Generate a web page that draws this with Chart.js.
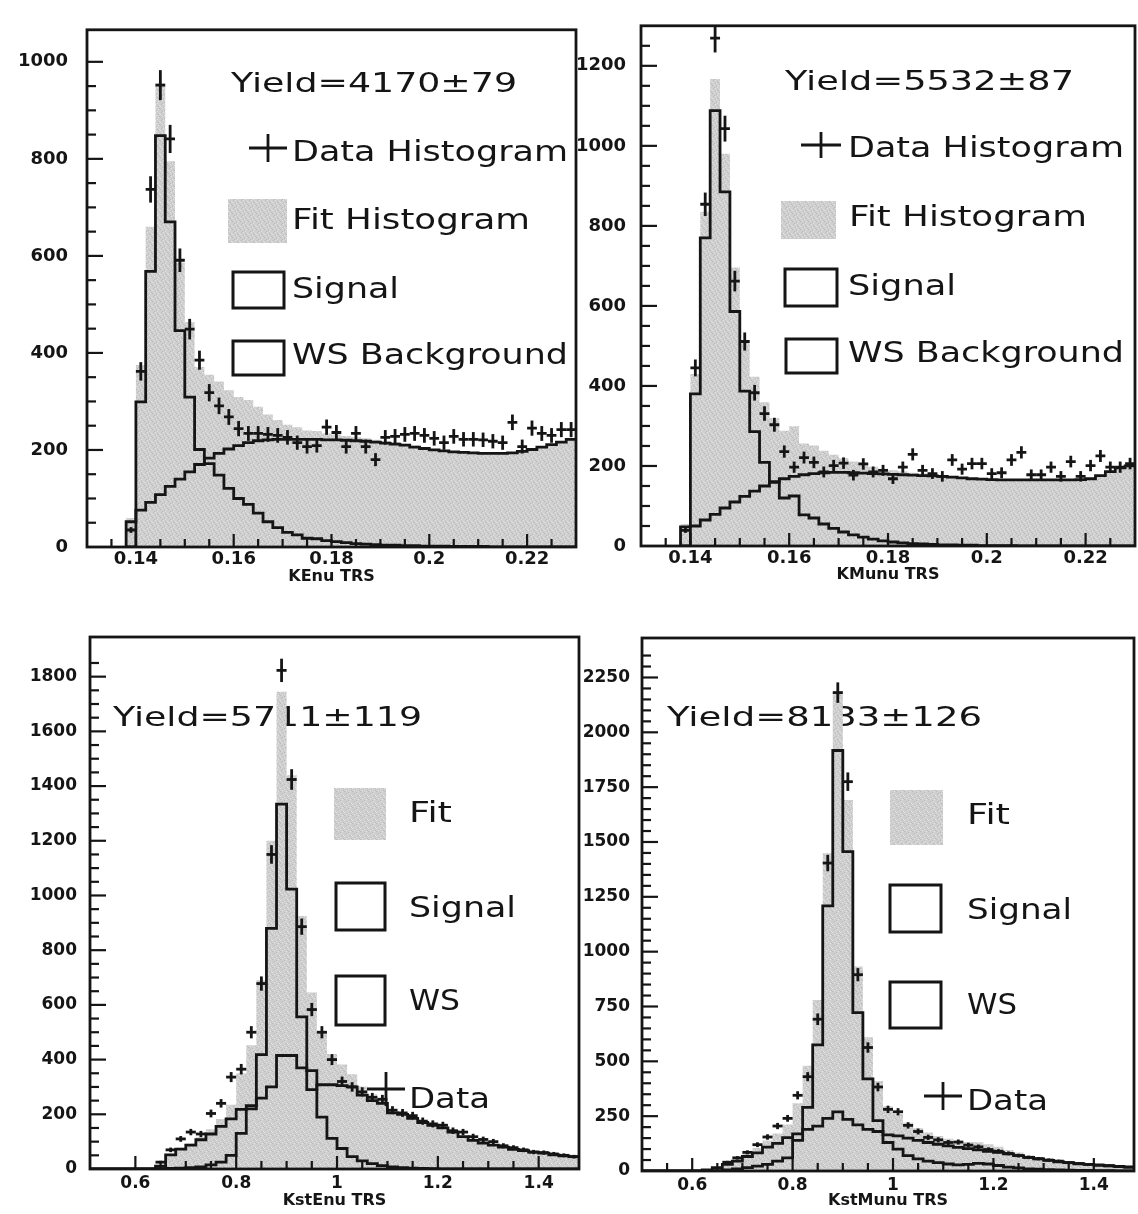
<!DOCTYPE html>
<html>
<head>
<meta charset="utf-8">
<script src="https://cdn.jsdelivr.net/npm/chart.js@4.4.1/dist/chart.umd.min.js"></script>
<style>
  html, body { margin: 0; padding: 0; background: #ffffff; }
  #page { position: relative; width: 1138px; height: 1214px; overflow: hidden; background: #ffffff; }
  #page canvas { position: absolute; }
</style>
</head>
<body>
<div id="page">
  <canvas id="cKEnu"></canvas>
  <canvas id="cKMunu"></canvas>
  <canvas id="cKstEnu"></canvas>
  <canvas id="cKstMunu"></canvas>
</div>
<script>
const INK = '#151515';
const FONT = '"DejaVu Sans", "Liberation Sans", sans-serif';

// ---------------- KEnu TRS (bins of 0.002 starting at 0.138) ----------------
const kenuBinStart = 0.138, kenuBinWidth = 0.002;
const kenuFit    = [60,375,660,956,795,586,464,371,355,341,323,309,303,289,273,262,252,247,240,239,234,232,229,226,224,221,218,216,213,209,205,202,200,197,196,195,194,193,193,194,197,201,206,211,216,222];
const kenuSignal = [0,299,568,848,670,446,309,201,172,148,121,100,88,70,52,40,30,25,18,17,13,11,9,7,6,5,4,4,3,3,2,2,2,1,1,1,1,0,0,0,0,0,0,0,0,0];
const kenuWS     = [52,76,92,108,125,140,155,170,183,193,202,209,215,219,221,222,222,222,222,222,221,221,220,219,218,216,214,212,210,206,203,200,198,196,195,194,193,193,193,194,197,201,206,211,216,222];
const kenuData   = [35,362,737,952,841,591,449,385,318,291,268,244,234,234,232,230,226,215,207,209,247,236,207,234,207,180,226,228,232,234,230,224,215,228,222,222,221,218,215,257,207,245,234,230,242,242];

// ---------------- KMunu TRS (bins of 0.002 starting at 0.138) ----------------
const kmunuBinStart = 0.138, kmunuBinWidth = 0.002;
const kmunuFit    = [55,430,835,1167,980,696,511,423,359,320,288,299,256,251,238,228,219,211,204,198,193,189,186,183,181,179,177,175,172,170,168,167,166,166,165,165,165,165,165,165,166,168,176,186,195,200];
const kmunuSignal = [0,380,770,1088,885,586,387,286,209,160,120,125,78,70,55,44,35,28,22,17,13,10,8,6,5,4,3,3,2,2,1,1,1,1,0,0,0,0,0,0,0,0,0,0,0,0];
const kmunuWS     = [48,50,65,79,95,110,124,137,150,160,168,174,178,181,183,184,184,183,182,181,180,179,178,177,176,175,174,172,170,168,167,166,165,165,165,165,165,165,165,165,166,168,176,186,195,200];
const kmunuData   = [39,445,854,1269,1043,662,511,383,331,303,236,197,221,209,185,201,207,177,205,185,189,168,197,229,189,181,174,215,192,206,206,181,183,215,234,178,178,197,174,211,174,201,225,197,197,206];

// ---------------- KstEnu TRS (bins of 0.02 starting at 0.50) ----------------
const kstenuBinStart = 0.50, kstenuBinWidth = 0.02;
const kstenuFit    = [0,0,0,0,0,0,0,12,56,78,93,117,145,183,235,350,452,690,1200,1745,1440,925,645,500,420,382,346,302,272,254,215,207,190,173,162,151,136,119,105,95,87,80,72,67,62,58,52,48,45];
const kstenuSignal = [0,0,0,0,0,0,0,0,2,3,5,8,15,25,50,130,220,418,880,1334,1023,556,360,190,112,75,45,30,20,12,8,5,3,2,1,0,0,0,0,0,0,0,0,0,0,0,0,0,0];
const kstenuWS     = [0,0,0,0,0,0,0,10,52,73,87,107,128,156,183,218,232,259,300,415,415,370,290,308,308,305,300,270,250,240,205,200,185,170,160,150,135,118,105,95,87,80,72,67,62,58,52,48,45];
const kstenuData   = [null,null,null,null,null,null,null,25,70,110,135,128,203,240,336,365,500,678,1150,1823,1424,886,583,500,400,320,300,282,262,255,215,205,195,175,165,160,140,135,118,108,100,85,78,70,62,60,55,50,45];

// ---------------- KstMunu TRS (bins of 0.02 starting at 0.50) ----------------
const kstmunuBinStart = 0.50, kstmunuBinWidth = 0.02;
const kstmunuFit    = [0,0,0,0,0,0,5,17,35,55,81,105,139,171,212,309,480,780,1449,2187,1691,932,610,410,295,260,220,195,175,160,147,136,132,131,122,110,96,84,72,63,54,47,42,36,33,29,26,22,19];
const kstmunuSignal = [0,0,0,0,0,0,0,2,5,10,15,22,30,45,60,140,290,575,1209,1917,1456,722,420,230,130,100,70,55,45,38,32,28,30,35,32,25,18,14,10,8,6,5,4,3,3,2,2,1,1];
const kstmunuWS     = [0,0,0,0,0,0,5,15,30,45,66,83,109,126,152,169,190,205,240,270,235,210,190,180,165,160,150,140,130,122,115,108,102,96,90,85,78,70,62,55,48,42,38,33,30,27,24,21,18];
const kstmunuData   = [null,null,null,null,null,null,null,null,40,60,85,120,155,205,240,345,430,692,1404,2181,1775,895,563,383,281,270,208,180,153,142,130,132,118,110,98,90,80,70,62,56,50,45,38,34,30,27,24,20,18];

// ---------------- panel layout ----------------
const panels = [
  {
    id: 'cKEnu', left: 0, top: 0, width: 580, height: 600,
    area: { left: 87, top: 16, right: 576, bottom: 547 },
    tickSize: 18,
    x: { min: 0.13, max: 0.23, step: 0.005, major: 0.02, digits: 3, pad: 2, title: 'KEnu TRS', titlePad: 14 },
    y: { max: 1066, step: 50, major: 200, pad: 19 },
    bins: { start: kenuBinStart, width: kenuBinWidth },
    fit: kenuFit, signal: kenuSignal, ws: kenuWS, data: kenuData,
    yieldNote: { text: 'Yield=4170\u00b179', x: 231, base: 92, size: 26, w: 286 },
    notes: [
      { kind: 'cross', cx: 268, cy: 148, hw: 19, hh: 14 },
      { kind: 'text', text: 'Data Histogram', x: 292, base: 161, size: 28, w: 276 },
      { kind: 'swatch', x1: 228, y1: 199, x2: 287, y2: 243 },
      { kind: 'text', text: 'Fit Histogram', x: 292, base: 229, size: 28, w: 238 },
      { kind: 'box', x1: 233, y1: 272, x2: 284, y2: 308 },
      { kind: 'text', text: 'Signal', x: 292, base: 298, size: 28, w: 107 },
      { kind: 'box', x1: 233, y1: 341, x2: 284, y2: 375 },
      { kind: 'text', text: 'WS Background', x: 292, base: 364, size: 28, w: 276 }
    ]
  },
  {
    id: 'cKMunu', left: 560, top: 0, width: 578, height: 600,
    area: { left: 641, top: 11, right: 1135, bottom: 546 },
    tickSize: 18,
    x: { min: 0.13, max: 0.23, step: 0.005, major: 0.02, digits: 3, pad: 2, title: 'KMunu TRS', titlePad: 16 },
    y: { max: 1300, step: 50, major: 200, pad: 15 },
    bins: { start: kmunuBinStart, width: kmunuBinWidth },
    fit: kmunuFit, signal: kmunuSignal, ws: kmunuWS, data: kmunuData,
    yieldNote: { text: 'Yield=5532\u00b187', x: 785, base: 90, size: 26, w: 289 },
    notes: [
      { kind: 'cross', cx: 821, cy: 145, hw: 20, hh: 13 },
      { kind: 'text', text: 'Data Histogram', x: 848, base: 157, size: 28, w: 276 },
      { kind: 'swatch', x1: 781, y1: 201, x2: 836, y2: 239 },
      { kind: 'text', text: 'Fit Histogram', x: 849, base: 226, size: 28, w: 238 },
      { kind: 'box', x1: 785, y1: 269, x2: 837, y2: 306 },
      { kind: 'text', text: 'Signal', x: 848, base: 295, size: 28, w: 108 },
      { kind: 'box', x1: 786, y1: 339, x2: 837, y2: 373 },
      { kind: 'text', text: 'WS Background', x: 848, base: 362, size: 28, w: 276 }
    ]
  },
  {
    id: 'cKstEnu', left: 0, top: 610, width: 590, height: 604,
    area: { left: 90, top: 637, right: 579, bottom: 1169 },
    tickSize: 17,
    x: { min: 0.51, max: 1.48, step: 0.05, major: 0.2, digits: 2, pad: 4, title: 'KstEnu TRS', titlePad: 4 },
    y: { max: 1945, step: 50, major: 200, pad: 13 },
    bins: { start: kstenuBinStart, width: kstenuBinWidth },
    fit: kstenuFit, signal: kstenuSignal, ws: kstenuWS, data: kstenuData,
    yieldNote: { text: 'Yield=5711\u00b1119', x: 113, base: 726, size: 26, w: 309 },
    notes: [
      { kind: 'swatch', x1: 334, y1: 788, x2: 386, y2: 840 },
      { kind: 'text', text: 'Fit', x: 409, base: 822, size: 28, w: 43 },
      { kind: 'box', x1: 336, y1: 883, x2: 385, y2: 930 },
      { kind: 'text', text: 'Signal', x: 409, base: 917, size: 28, w: 107 },
      { kind: 'box', x1: 336, y1: 976, x2: 385, y2: 1025 },
      { kind: 'text', text: 'WS', x: 409, base: 1010, size: 28, w: 51 },
      { kind: 'cross', cx: 386, cy: 1089, hw: 19, hh: 17 },
      { kind: 'text', text: 'Data', x: 409, base: 1108, size: 28, w: 81 }
    ]
  },
  {
    id: 'cKstMunu', left: 560, top: 610, width: 578, height: 604,
    area: { left: 642, top: 638, right: 1135, bottom: 1171 },
    tickSize: 17,
    x: { min: 0.5, max: 1.48, step: 0.05, major: 0.2, digits: 2, pad: 4, title: 'KstMunu TRS', titlePad: 4 },
    y: { max: 2430, step: 50, major: 250, pad: 12 },
    bins: { start: kstmunuBinStart, width: kstmunuBinWidth },
    fit: kstmunuFit, signal: kstmunuSignal, ws: kstmunuWS, data: kstmunuData,
    yieldNote: { text: 'Yield=8133\u00b1126', x: 667, base: 726, size: 26, w: 315 },
    notes: [
      { kind: 'swatch', x1: 890, y1: 790, x2: 943, y2: 845 },
      { kind: 'text', text: 'Fit', x: 967, base: 824, size: 28, w: 43 },
      { kind: 'box', x1: 890, y1: 885, x2: 941, y2: 932 },
      { kind: 'text', text: 'Signal', x: 967, base: 919, size: 28, w: 105 },
      { kind: 'box', x1: 890, y1: 982, x2: 941, y2: 1028 },
      { kind: 'text', text: 'WS', x: 967, base: 1014, size: 28, w: 50 },
      { kind: 'cross', cx: 943, cy: 1096, hw: 19, hh: 14 },
      { kind: 'text', text: 'Data', x: 967, base: 1110, size: 28, w: 81 }
    ]
  }
];

// light grey grain used for the fitted histogram
function grainPattern(ctx) {
  const c = document.createElement('canvas');
  c.width = 8; c.height = 8;
  const g = c.getContext('2d');
  g.fillStyle = '#cfcfcf'; g.fillRect(0, 0, 8, 8);
  g.fillStyle = '#bbbbbb';
  [[1,0],[5,1],[3,3],[7,4],[0,5],[4,6],[2,7],[6,2]].forEach(([x, y]) => g.fillRect(x, y, 1, 1));
  g.fillStyle = '#e3e3e3';
  [[3,0],[0,2],[6,5],[2,4],[5,7],[7,1],[4,3]].forEach(([x, y]) => g.fillRect(x, y, 1, 1));
  return ctx.createPattern(c, 'repeat');
}

function fitText(ctx, text, x, base, size, width) {
  ctx.save();
  ctx.font = size + 'px ' + FONT;
  ctx.fillStyle = INK;
  ctx.textAlign = 'left';
  ctx.textBaseline = 'alphabetic';
  const w0 = ctx.measureText(text).width;
  ctx.translate(x, base);
  ctx.scale(width / w0, 1);
  ctx.fillText(text, 0, 0);
  ctx.restore();
}

function isMultiple(v, m) {
  return Math.abs(Math.round(v / m) * m - v) < 1e-7;
}

function makeChart(p) {
  const cv = document.getElementById(p.id);
  cv.width = p.width; cv.height = p.height;
  cv.style.left = p.left + 'px';
  cv.style.top = p.top + 'px';
  const ctx = cv.getContext('2d');
  const ox = p.left, oy = p.top;

  const n = p.fit.length;
  const edges = [];
  for (let i = 0; i <= n; i++) edges.push(+(p.bins.start + i * p.bins.width).toFixed(4));
  const centers = edges.slice(0, n).map((e, i) => +((e + edges[i + 1]) / 2).toFixed(4));

  const stepPts = vals => [{ x: edges[0], y: 0 }]
    .concat(vals.map((v, i) => ({ x: edges[i], y: v })))
    .concat([{ x: edges[n], y: vals[n - 1] }]);
  const dataPts = p.data.map((v, i) => (v == null ? null : { x: centers[i], y: v })).filter(Boolean);

  const binHalfPx = c => {
    const s = c.chart.scales.x;
    if (!s) return 4.5;
    return Math.abs(s.getPixelForValue(p.bins.width) - s.getPixelForValue(0)) / 2;
  };

  const tickFont = { family: FONT, size: p.tickSize, weight: 'bold' };

  const notesPlugin = {
    id: 'notes_' + p.id,
    beforeDatasetsDraw(chart) {
      const yn = p.yieldNote;
      fitText(chart.ctx, yn.text, yn.x - ox, yn.base - oy, yn.size, yn.w);
    },
    afterDraw(chart) {
      const c = chart.ctx;
      const a = chart.chartArea;
      const xs = chart.scales.x, ys = chart.scales.y;
      c.save();
      c.strokeStyle = INK;
      c.lineCap = 'butt';
      // inward tick marks
      c.lineWidth = 2.2;
      xs.ticks.forEach(t => {
        const px = xs.getPixelForValue(t.value);
        if (px <= a.left + 2 || px >= a.right - 2) return;
        const len = isMultiple(t.value, p.x.major) ? 13 : 8;
        c.beginPath(); c.moveTo(px, a.bottom); c.lineTo(px, a.bottom - len); c.stroke();
      });
      ys.ticks.forEach(t => {
        const py = ys.getPixelForValue(t.value);
        if (py <= a.top + 2 || py >= a.bottom - 2) return;
        const len = isMultiple(t.value, p.y.major) ? 16 : 9;
        c.beginPath(); c.moveTo(a.left, py); c.lineTo(a.left + len, py); c.stroke();
      });
      // frame
      c.lineWidth = 2.8;
      c.strokeRect(a.left, a.top, a.right - a.left, a.bottom - a.top);
      // key
      p.notes.forEach(k => {
        if (k.kind === 'text') {
          fitText(c, k.text, k.x - ox, k.base - oy, k.size, k.w);
        } else if (k.kind === 'box') {
          c.lineWidth = 3;
          c.strokeRect(k.x1 - ox, k.y1 - oy, k.x2 - k.x1, k.y2 - k.y1);
        } else if (k.kind === 'swatch') {
          c.fillStyle = grainPattern(c);
          c.fillRect(k.x1 - ox, k.y1 - oy, k.x2 - k.x1, k.y2 - k.y1);
        } else if (k.kind === 'cross') {
          c.lineWidth = 2.8;
          c.beginPath();
          c.moveTo(k.cx - k.hw - ox, k.cy - oy); c.lineTo(k.cx + k.hw - ox, k.cy - oy);
          c.moveTo(k.cx - ox, k.cy - k.hh - oy); c.lineTo(k.cx - ox, k.cy + k.hh - oy);
          c.stroke();
        }
      });
      c.restore();
    },
    afterDatasetsDraw(chart) {
      // vertical statistical error bars on the data points
      const c = chart.ctx;
      const ys = chart.scales.y;
      chart.data.datasets.forEach((ds, di) => {
        if (!ds.errorBars) return;
        const meta = chart.getDatasetMeta(di);
        c.save();
        c.strokeStyle = INK;
        c.lineWidth = 2.8;
        meta.data.forEach((el, i) => {
          const v = ds.data[i].y;
          const e = Math.sqrt(v);
          const top = Math.max(ys.getPixelForValue(v + e), chart.chartArea.top);
          const bot = ys.getPixelForValue(Math.max(v - e, 0));
          c.beginPath(); c.moveTo(el.x, top); c.lineTo(el.x, bot); c.stroke();
        });
        c.restore();
      });
    }
  };

  return new Chart(ctx, {
    type: 'scatter',
    data: {
      datasets: [
        {
          label: 'Data', data: dataPts, errorBars: true, order: 0,
          showLine: false, pointStyle: 'line', pointRadius: binHalfPx, pointHoverRadius: binHalfPx,
          pointBorderWidth: 2.8, pointBorderColor: INK, pointBackgroundColor: INK
        },
        {
          label: 'Signal', data: stepPts(p.signal), order: 1,
          showLine: true, stepped: true, fill: false, pointRadius: 0,
          borderColor: INK, borderWidth: 2.8
        },
        {
          label: 'WS', data: stepPts(p.ws), order: 2,
          showLine: true, stepped: true, fill: false, pointRadius: 0,
          borderColor: INK, borderWidth: 2.8
        },
        {
          label: 'Fit', data: stepPts(p.fit), order: 3,
          showLine: true, stepped: true, fill: 'origin', pointRadius: 0,
          borderWidth: 0, borderColor: 'rgba(0,0,0,0)', backgroundColor: grainPattern(ctx)
        }
      ]
    },
    options: {
      responsive: false,
      devicePixelRatio: 1,
      animation: false,
      events: [],
      layout: { padding: { left: 0, top: p.area.top - oy, right: p.width - (p.area.right - ox), bottom: 0 } },
      plugins: { legend: { display: false }, tooltip: { enabled: false } },
      scales: {
        x: {
          type: 'linear', min: p.x.min, max: p.x.max,
          border: { display: false },
          grid: { display: false, drawTicks: false, tickLength: 0 },
          ticks: {
            stepSize: p.x.step, autoSkip: false, maxRotation: 0, padding: p.x.pad,
            color: INK, font: tickFont,
            callback: v => (isMultiple(v, p.x.major) && v > p.x.min + 1e-9 && v < p.x.max - 1e-9) ? String(Number(v.toFixed(p.x.digits))) : ''
          },
          title: {
            display: true, text: p.x.title, color: INK,
            font: { family: FONT, size: 16, weight: 'bold' },
            padding: { top: 0, bottom: p.x.titlePad }
          },
          afterFit: s => { s.height = p.height - (p.area.bottom - oy); }
        },
        y: {
          type: 'linear', min: 0, max: p.y.max,
          border: { display: false },
          grid: { display: false, drawTicks: false, tickLength: 0 },
          ticks: {
            stepSize: p.y.step, autoSkip: false, padding: p.y.pad,
            color: INK, font: tickFont,
            callback: v => isMultiple(v, p.y.major) ? String(Math.round(v)) : ''
          },
          afterFit: s => { s.width = p.area.left - ox; }
        }
      }
    },
    plugins: [notesPlugin]
  });
}

panels.forEach(makeChart);
</script>
</body>
</html>
